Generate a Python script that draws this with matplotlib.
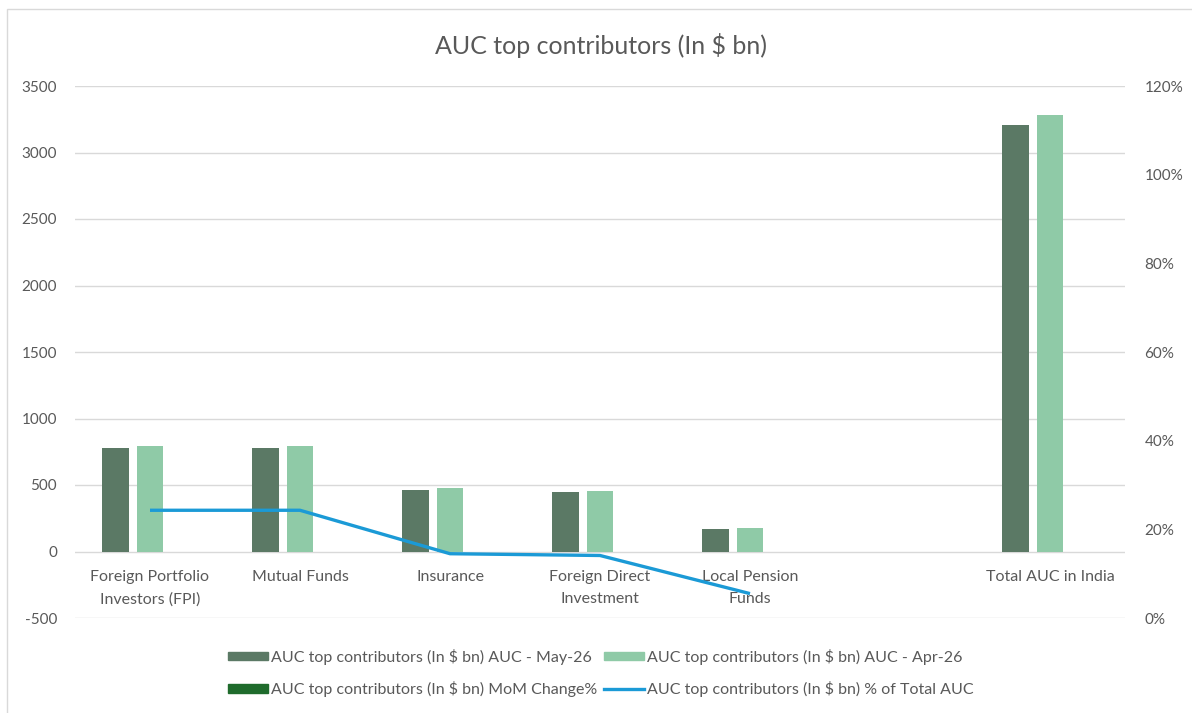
import numpy as np
import matplotlib
matplotlib.use("Agg")
import matplotlib.pyplot as plt
from matplotlib.patches import Rectangle
from matplotlib.lines import Line2D
from matplotlib.ticker import PercentFormatter

plt.rcParams["font.family"] = ["Lato", "DejaVu Sans"]
plt.rcParams["axes.unicode_minus"] = False

# ---- data -------------------------------------------------------------
categories = [
    "Foreign Portfolio\nInvestors (FPI)",
    "Mutual Funds",
    "Insurance",
    "Foreign Direct\nInvestment",
    "Local Pension\nFunds",
    "",
    "Total AUC in India",
]
auc_may26 = [775, 775, 459, 449, 171, np.nan, 3205]
auc_apr26 = [790, 790, 474, 454, 173, np.nan, 3281]
mom_change = [-0.019, -0.019, -0.032, -0.011, -0.012, np.nan, -0.023]
pct_of_total = [0.243, 0.243, 0.145, 0.141, 0.055, np.nan, np.nan]

series_prefix = "AUC top contributors (In $ bn)"
label_may = f"{series_prefix} AUC - May-26"
label_apr = f"{series_prefix} AUC - Apr-26"
label_mom = f"{series_prefix} MoM Change%"
label_pct = f"{series_prefix} % of Total AUC"

# ---- style ------------------------------------------------------------
c_may = "#5b7965"
c_apr = "#8fcaa7"
c_mom = "#1f6b2c"
c_line = "#1b9ad6"
c_grid = "#d9d9d9"
c_text = "#595959"

fig = plt.figure(figsize=(11.92, 7.13), dpi=100)
W, H = 1192, 713
ax = fig.add_axes([75 / W, 1 - 618 / H, 1050 / W, 532 / H])
ax2 = ax.twinx()

x = np.arange(len(categories))
bw = 0.175
step = 0.23
ax.bar(x - step, auc_may26, bw, color=c_may, zorder=2)
ax.bar(x, auc_apr26, bw, color=c_apr, zorder=2)
ax.bar(x + step, mom_change, bw, color=c_mom, zorder=2)
ax2.plot(x, pct_of_total, color=c_line, lw=2.4, solid_capstyle="butt", zorder=3)

ax.set_xlim(-0.5, len(categories) - 0.5)
ax.set_ylim(-500, 3500)
ax.set_yticks(np.arange(-500, 3501, 500))
ax2.set_ylim(0, 1.2)
ax2.set_yticks(np.arange(0, 1.21, 0.2))
ax2.yaxis.set_major_formatter(PercentFormatter(1.0, decimals=0))

ax.grid(axis="y", color=c_grid, lw=1.0, zorder=0)
ax.set_axisbelow(True)
for a in (ax, ax2):
    for s in a.spines.values():
        s.set_visible(False)
    a.tick_params(length=0, labelcolor=c_text, labelsize=11)
ax.tick_params(axis="y", pad=13)
ax2.tick_params(axis="y", pad=14)

# category labels sit just under the zero line
ax.spines["bottom"].set_position(("data", 0))
ax.set_xticks(x)
ax.set_xticklabels(categories, fontsize=11.5, color=c_text, linespacing=1.75)
ax.tick_params(axis="x", pad=13)

fig.text(601 / W, 1 - 45 / H, "AUC top contributors (In $ bn)", ha="center",
         va="center", fontsize=18, color=c_text)

handles = [
    Rectangle((0, 0), 1, 1, color=c_may),
    Rectangle((0, 0), 1, 1, color=c_mom),
    Rectangle((0, 0), 1, 1, color=c_apr),
    Line2D([], [], color=c_line, lw=2.4),
]
labels = [label_may, label_mom, label_apr, label_pct]
fig.legend(handles, labels, loc="center", bbox_to_anchor=(601 / W, 1 - 673 / H),
           ncol=2, frameon=False, fontsize=11.5, handlelength=2.5, handleheight=0.45,
           handletextpad=0.2, columnspacing=0.4, labelspacing=1.05,
           labelcolor=c_text)

# chart area outline
fig.patches.append(Rectangle((7 / W, -0.05), 1.2, 1 - 9 / H + 0.05,
                             transform=fig.transFigure, fill=False,
                             edgecolor=c_grid, lw=1.0))

fig.savefig("out.png", dpi=100)
